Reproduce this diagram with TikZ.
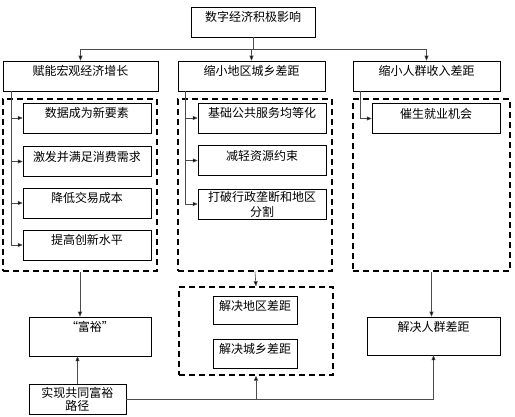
\documentclass[tikz,border=0pt]{standalone}
\usepackage{fontspec}
\setmainfont{Noto Sans CJK SC}
\usetikzlibrary{arrows.meta}
\tikzset{
  bx/.style={draw, line width=0.5pt, inner sep=0pt, font=\fontsize{12pt}{14pt}\selectfont},
  tb/.style={bx, text height=15pt, text depth=#1},
  tb/.default=15pt,
  dbox/.style={draw, line width=1.4pt, dash pattern=on 6pt off 4pt, inner sep=0pt},
  con/.style={draw=black!70, line width=0.6pt},
  arr/.style={con, -{Triangle[length=5pt,width=4pt,fill=black]}}
}
\begin{document}
\begin{tikzpicture}[x=1pt,y=-1pt]
\useasboundingbox (0,0) rectangle (515,417);
% top level
\node[tb, minimum width=124pt] (top) at (253,22) {数字经济积极影响};
\node[tb, minimum width=155pt] (grow) at (80.5,76) {赋能宏观经济增长};
\node[tb, minimum width=147pt] (gap) at (251.5,76) {缩小地区城乡差距};
\node[tb, minimum width=147pt] (inc) at (426.5,76) {缩小人群收入差距};
\draw[con] (top.south) -- ++(0,12) coordinate (hub);
\draw[arr] (hub) -| (grow.north);
\draw[arr] (hub) -| (gap.north);
\draw[arr] (hub) -| (inc.north);
% dashed groups
\node[dbox, minimum width=154pt, minimum height=172pt] (ga) at (80,185) {};
\node[dbox, minimum width=154pt, minimum height=172pt] (gb) at (255,185) {};
\node[dbox, minimum width=157pt, minimum height=172pt] (gc) at (431.5,185) {};
% left column
\node[tb, minimum width=128pt] (a1) at (87,118) {数据成为新要素};
\node[tb, minimum width=128pt] (a2) at (87,161.5) {激发并满足消费需求};
\node[tb, minimum width=128pt] (a3) at (87,203) {降低交易成本};
\node[tb, minimum width=128pt] (a4) at (87,245) {提高创新水平};
\foreach \n in {a1,a2,a3,a4}
  \draw[arr] ([xshift=9pt]grow.south west) |- (\n.west);
% middle column
\node[tb, minimum width=128pt] (b1) at (262,118) {基础公共服务均等化};
\node[tb, minimum width=128pt] (b2) at (262,160.5) {减轻资源约束};
\node[bx, minimum width=128pt, minimum height=30pt, align=center,
  font=\fontsize{12pt}{15pt}\selectfont] (b3) at (262,204) {打破行政垄断和地区\\分割};
\foreach \n in {b1,b2,b3}
  \draw[arr] ([xshift=8pt]gap.south west) |- (\n.west);
% right column
\node[tb, minimum width=128pt] (c1) at (436,118.5) {催生就业机会};
\draw[arr] ([xshift=8pt]inc.south west) |- (c1.west);
% outcomes
\node[tb=24pt, minimum width=122pt] (fuyu) at (90,336.5) {“富裕”};
\node[dbox, minimum width=154pt, minimum height=88pt] (gb2) at (256,331) {};
\node[tb=13pt, minimum width=84pt] (d1) at (255,310) {解决地区差距};
\node[tb=14pt, minimum width=84pt] (d2) at (255,353.5) {解决城乡差距};
\node[tb=23pt, minimum width=133pt] (renqun) at (433.5,336) {解决人群差距};
\draw[arr] (ga.south) -- (ga.south |- fuyu.north);
\draw[arr] (gb.south) -- (gb2.north);
\draw[arr] (gc.south) -- (gc.south |- renqun.north);
% path
\node[bx, minimum width=97pt, minimum height=30pt, align=center,
  font=\fontsize{12pt}{13pt}\selectfont] (path) at (77.5,399) {实现共同富裕\\路径};
\draw[arr] (path.north) -- (path.north |- fuyu.south);
\draw[arr] (path.east) -| (renqun.south);
\draw[arr] (gb2.south |- path.east) -- (gb2.south);
\end{tikzpicture}
\end{document}
